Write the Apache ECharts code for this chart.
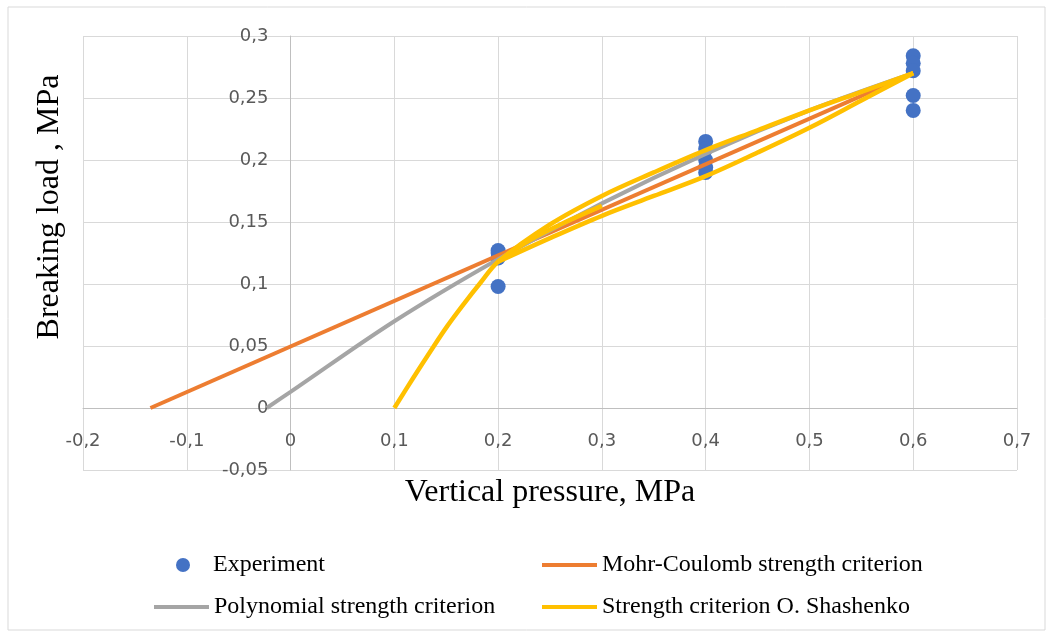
<!DOCTYPE html>
<html>
<head>
<meta charset="utf-8">
<script src="https://cdn.jsdelivr.net/npm/echarts@6/dist/echarts.min.js"></script>
<style>
html,body{margin:0;padding:0;background:#fff;}
#c{width:1053px;height:637px;}
</style>
</head>
<body>
<div id="c"></div>
<script>
// Experiment points
const expX = [0.2, 0.2, 0.2, 0.2, 0.4, 0.4, 0.4, 0.4, 0.4, 0.6, 0.6, 0.6, 0.6, 0.6];
const expY = [0.127, 0.125, 0.121, 0.098, 0.215, 0.209, 0.2, 0.194, 0.19, 0.284, 0.278, 0.272, 0.252, 0.24];
// Mohr-Coulomb strength criterion
const mohrX = [-0.135, 0.6];
const mohrY = [0, 0.27];
// Polynomial strength criterion
const polyX = [-0.023, 0, 0.1, 0.2, 0.3, 0.4, 0.5, 0.6];
const polyY = [0, 0.013, 0.07, 0.12, 0.165, 0.205, 0.24, 0.27];
// Strength criterion O. Shashenko (upper branch)
const shUpX = [0.1, 0.118, 0.135, 0.151, 0.167, 0.183, 0.2, 0.25, 0.3, 0.35, 0.4, 0.45, 0.5, 0.55, 0.6];
const shUpY = [0, 0.024, 0.046, 0.066, 0.084, 0.101, 0.118, 0.148, 0.171, 0.19, 0.208, 0.224, 0.24, 0.255, 0.27];
// Strength criterion O. Shashenko (lower branch)
const shLoX = [0.2, 0.25, 0.3, 0.35, 0.4, 0.45, 0.5, 0.55, 0.6];
const shLoY = [0.118, 0.137, 0.155, 0.171, 0.187, 0.206, 0.226, 0.248, 0.27];
// Strength criterion O. Shashenko (middle branch near 0.2)
const shMidX = [0.2, 0.23, 0.26, 0.3];
const shMidY = [0.118, 0.135, 0.148, 0.163];

const names = ['Experiment', 'Mohr-Coulomb strength criterion', 'Polynomial strength criterion', 'Strength criterion O. Shashenko'];
const zip = (xs, ys) => xs.map((x, i) => [x, ys[i]]);
const fmt = v => String(+v.toFixed(2)).replace('.', ',');

const legendText = { fontFamily: 'Liberation Serif', fontSize: 24, color: '#000', lineHeight: 24 };
const lineSeries = (name, xs, ys, color, w) => ({
  name, type: 'line', data: zip(xs, ys), symbol: 'none', showSymbol: false, smooth: 0.35,
  lineStyle: { color, width: w }, itemStyle: { color }, animation: false
});

const chart = echarts.init(document.getElementById('c'), null, { renderer: 'canvas' });
chart.setOption({
  animation: false,
  backgroundColor: '#fff',
  grid: { left: 83, right: 36, top: 36, bottom: 167, containLabel: false },
  xAxis: {
    type: 'value', min: -0.2, max: 0.7, interval: 0.1, position: 'bottom', offset: -62,
    axisLine: { onZero: false, lineStyle: { color: '#bfbfbf', width: 1 } },
    axisTick: { show: false },
    axisLabel: { formatter: fmt, margin: 24, color: '#595959', fontFamily: 'DejaVu Sans', fontSize: 18 },
    splitLine: { show: true, lineStyle: { color: '#d9d9d9', width: 1 } }
  },
  yAxis: {
    type: 'value', min: -0.05, max: 0.3, interval: 0.05, position: 'left', offset: -207.5,
    axisLine: { show: true, onZero: false, lineStyle: { color: '#bfbfbf', width: 1 } },
    axisTick: { show: false },
    axisLabel: { formatter: fmt, margin: 22, color: '#595959', fontFamily: 'DejaVu Sans', fontSize: 18 },
    splitLine: { show: true, lineStyle: { color: '#d9d9d9', width: 1 } }
  },
  legend: [
    { data: [{ name: names[0], icon: 'circle' }], left: 176, top: 553, padding: 0, itemWidth: 14, itemHeight: 14,
      textStyle: Object.assign({ padding: [0, 0, 0, 18] }, legendText) },
    { data: [{ name: names[1], icon: 'rect' }], left: 542, top: 553, padding: 0, itemWidth: 55, itemHeight: 4, textStyle: legendText },
    { data: [{ name: names[2], icon: 'rect' }], left: 154, top: 595, padding: 0, itemWidth: 55, itemHeight: 4, textStyle: legendText },
    { data: [{ name: names[3], icon: 'rect' }], left: 542, top: 595, padding: 0, itemWidth: 55, itemHeight: 4, textStyle: legendText }
  ],
  graphic: [
    { type: 'rect', shape: { x: 8, y: 7, width: 1037, height: 623 }, style: { fill: 'none', stroke: '#d9d9d9', lineWidth: 1 }, silent: true, z: -10 },
    { type: 'text', x: 550, y: 493, style: { text: 'Vertical pressure, MPa', font: '32px "Liberation Serif"', fill: '#000', align: 'center', verticalAlign: 'middle' } },
    { type: 'text', x: 50, y: 207, rotation: Math.PI / 2, style: { text: 'Breaking load , MPa', font: '32px "Liberation Serif"', fill: '#000', align: 'center', verticalAlign: 'middle' } }
  ],
  series: [
    { name: names[0], type: 'scatter', data: zip(expX, expY), symbol: 'circle', symbolSize: 15,
      itemStyle: { color: '#4472C4', opacity: 1 }, animation: false },
    lineSeries(names[1], mohrX, mohrY, '#ED7D31', 4),
    lineSeries(names[2], polyX, polyY, '#A5A5A5', 4),
    lineSeries(names[3], shUpX, shUpY, '#FFC000', 4.5),
    lineSeries(names[3], shLoX, shLoY, '#FFC000', 4.5),
    lineSeries(names[3], shMidX, shMidY, '#FFC000', 4.5)
  ]
});
</script>
</body>
</html>
